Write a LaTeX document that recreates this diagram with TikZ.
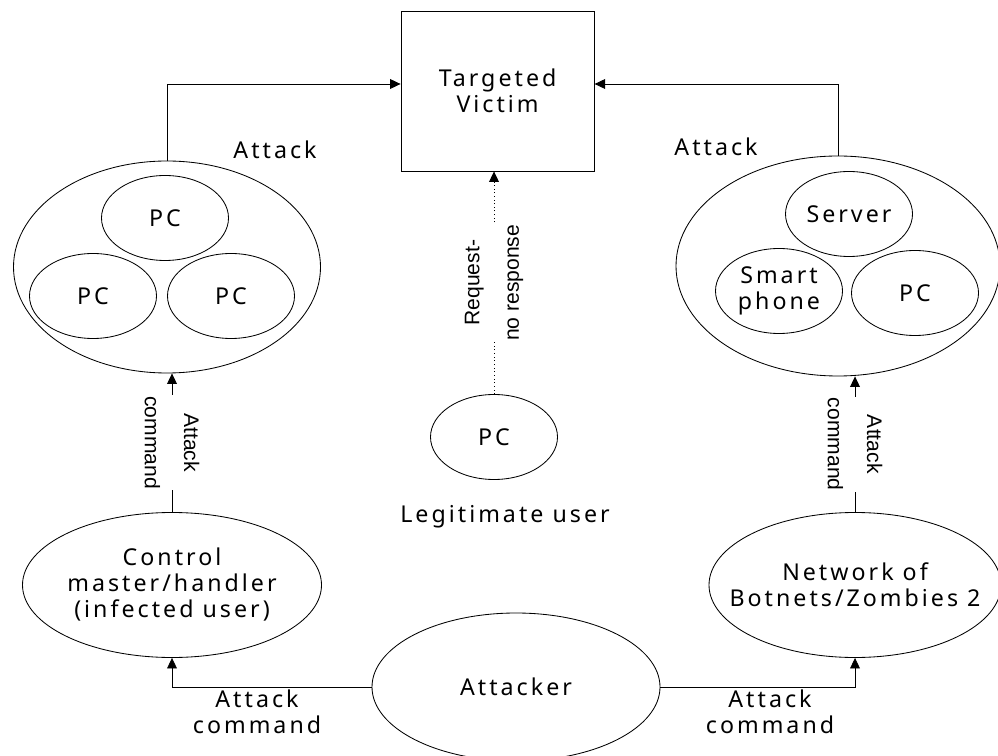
\documentclass[tikz,border=0pt]{standalone}
\usepackage{fontspec}
\setmainfont{Noto Sans}[LetterSpace=13]
\newfontfamily\sidefont{Liberation Sans}
\usepackage{tikz}
\usetikzlibrary{arrows.meta,shapes.geometric,positioning}
\tikzset{
  every node/.style={font=\fontsize{16.5pt}{18.5pt}\selectfont, align=center},
  blob/.style={ellipse, draw, line width=0.6pt, inner sep=0pt},
  pc/.style={blob, minimum width=3.175cm, minimum height=2.125cm},
  hit/.style={line width=0.6pt, -{Triangle[width=7pt,length=7.5pt]}},
  side/.style={font=\sidefont\fontsize{15pt}{28pt}\selectfont, fill=white, inner sep=1pt}
}
\begin{document}
\begin{tikzpicture}
\useasboundingbox (0,0) rectangle (24.95,18.875);
%the victim
    \node[draw, line width=0.6pt, minimum width=4.83cm, minimum height=4cm] (V) at (12.44,16.6) {Targeted\\Victim};
    \coordinate (lvl) at (0,16.775);

%the group of PCs on the left
    \node[blob, minimum width=7.675cm, minimum height=5.3cm] (GL) at (4.175,12.2) {};
    \node[pc] (L1) at (4.125,13.425) {PC};
    \node[pc] (L2) at (2.325,11.475) {PC};
    \node[pc] (L3) at (5.775,11.475) {PC};

%the group of devices on the right
    \node[blob, minimum width=8.1cm, minimum height=5.5cm] (GR) at (20.95,12.225) {};
    \node[pc] (R1) at (21.225,13.525) {Server};
    \node[pc] (R2) at (19.475,11.6) {Smart\\phone};
    \node[pc] (R3) at (22.875,11.55) {PC};

%the legitimate user
    \node[pc] (U) at (12.35,7.95) {PC};
    \node (Ulab) at (12.625,5.95) {Legitimate user};

%the handlers and the attacker
    \node[blob, minimum width=7.475cm, minimum height=3.625cm] (H) at (4.3,4.25) {Control\\master/handler\\(infected user)};
    \node[blob, minimum width=7.3cm, minimum height=3.625cm,
          label=center:{Network of\\Botnets/Zombies 2}] (N) at (21.375,4.25) {};
    \node[blob, minimum width=7.2cm, minimum height=3.7cm] (A) at (12.9,1.7) {Attacker};

%the attacks on the victim
    \draw[hit] (GL.north) |- (V.west |- lvl);
    \draw[hit] (GR.north) |- (V.east |- lvl);
    \node (a1) at (6.875,15.125) {Attack};
    \node (a2) at (17.9,15.2) {Attack};

%the request with no response
    \draw[hit, dotted] (U.north) -- (U.north |- V.south)
        node[midway, side, rotate=90] {Request-\\no response};

%the commands
    \draw[hit] (H.north) -- (H.north |- GL.south)
        node[midway, side, rotate=-90] {Attack\\command};
    \draw[hit] (N.north) -- (N.north |- GR.south)
        node[midway, side, rotate=-90] {Attack\\command};
    \draw[hit] (A.west) -| (H.south);
    \draw[hit] (A.east) -| (N.south);
    \node (c1) at (6.425,1.075) {Attack\\command};
    \node (c2) at (19.25,1.075) {Attack\\command};
\end{tikzpicture}
\end{document}
